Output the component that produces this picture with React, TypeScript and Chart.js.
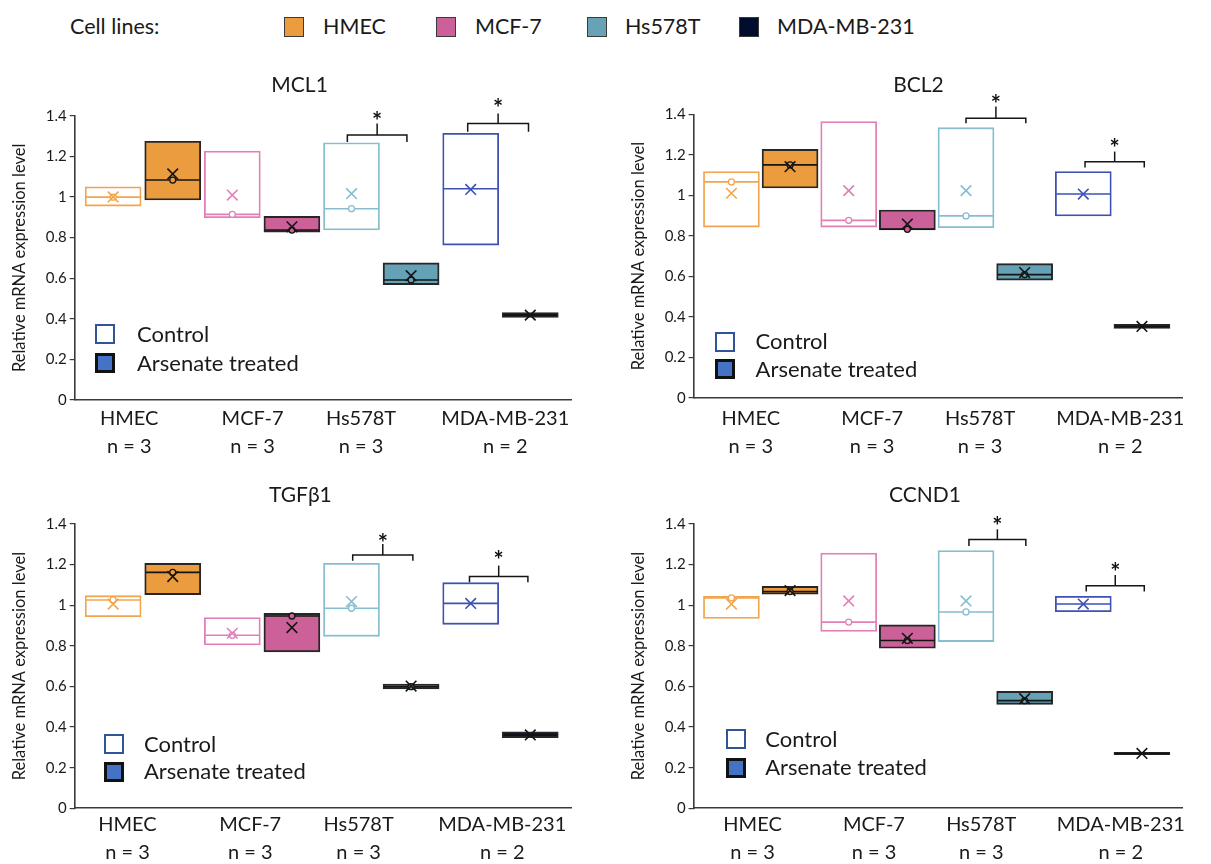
import React, { useEffect, useRef } from 'react';
import { Chart, registerables } from 'chart.js';

Chart.register(...registerables);

// ---------------- data ----------------
const cellLines = ['HMEC', 'MCF-7', 'Hs578T', 'MDA-MB-231'];
const sampleCounts = [3, 3, 3, 2];
const treatments = ['Control', 'Arsenate treated'];
const yTicks = [0, 0.2, 0.4, 0.6, 0.8, 1, 1.2, 1.4];

// box order: HMEC ctrl, HMEC treated, MCF-7 ctrl, MCF-7 treated,
//            Hs578T ctrl, Hs578T treated, MDA-MB-231 ctrl, MDA-MB-231 treated
const mcl1Low = [0.955, 0.985, 0.898, 0.827, 0.837, 0.568, 0.763, 0.407];
const mcl1High = [1.05, 1.274, 1.226, 0.904, 1.267, 0.675, 1.313, 0.43];
const mcl1Median = [0.999, 1.083, 0.914, 0.837, 0.942, 0.591, 1.04, 0.418];
const mcl1Mean = [1.0, 1.113, 1.009, 0.853, 1.016, 0.612, 1.037, 0.418];

const bcl2Low = [0.843, 1.036, 0.843, 0.829, 0.84, 0.581, 0.898, 0.342];
const bcl2High = [1.117, 1.227, 1.364, 0.927, 1.334, 0.662, 1.117, 0.362];
const bcl2Median = [1.066, 1.15, 0.876, 0.832, 0.898, 0.608, 1.006, 0.352];
const bcl2Mean = [1.01, 1.141, 1.023, 0.858, 1.023, 0.618, 1.006, 0.352];

const tgfLow = [0.944, 1.052, 0.804, 0.77, 0.847, 0.588, 0.906, 0.348];
const tgfHigh = [1.047, 1.206, 0.939, 0.96, 1.206, 0.612, 1.111, 0.376];
const tgfMedian = [1.026, 1.162, 0.852, 0.947, 0.985, 0.599, 1.009, 0.361];
const tgfMean = [1.006, 1.141, 0.862, 0.89, 1.018, 0.602, 1.009, 0.361];

const ccnd1Low = [0.935, 1.054, 0.871, 0.788, 0.821, 0.512, 0.968, 0.264];
const ccnd1High = [1.044, 1.093, 1.257, 0.903, 1.269, 0.576, 1.044, 0.276];
const ccnd1Median = [1.036, 1.067, 0.917, 0.826, 0.967, 0.53, 1.006, 0.27];
const ccnd1Mean = [1.006, 1.072, 1.021, 0.837, 1.021, 0.54, 1.006, 0.27];

// significance brackets: [left slot, right slot, leg end, bar level, tick top, asterisk]
const mcl1Sig = [[3.93, 4.93, 1.27, 1.305, 1.362, 1.398], [5.95, 6.97, 1.321, 1.362, 1.411, 1.461]];
const bcl2Sig = [[4.0, 5.02, 1.356, 1.38, 1.438, 1.471], [6.03, 7.04, 1.137, 1.166, 1.216, 1.257]];
const tgfSig = [[4.02, 5.03, 1.219, 1.247, 1.301, 1.329], [5.98, 6.96, 1.113, 1.142, 1.195, 1.247]];
const ccnd1Sig = [[4.05, 5.02, 1.292, 1.324, 1.374, 1.411], [6.05, 7.04, 1.067, 1.096, 1.149, 1.185]];

// ---------------- styles ----------------
const FONT = 'Lato, "Open Sans", sans-serif';
const textColor = '#1a1a1a';
const axisColor = '#3a3a3a';
const lineFill = ['#EA9C3F', '#CC6098', '#65A2B5', '#020E2C'];
const lineStroke = ['#F2A54C', '#E27FB6', '#86BDCF', '#3D50B4'];
const legendSwatch = ['#EA9C3F', '#CC6098', '#67A2B5', '#020C2C'];

type Spec = {
  title: string;
  low: number[]; high: number[]; median: number[]; mean: number[];
  sig: number[][];
  labelAt: number[];
  left: number; top: number; width: number; height: number;
  areaLeft: number; areaTop: number; areaRight: number; areaBottom: number;
  titleX: number; titleY: number; axisTitleX: number; labelPad: number;
  legX: number; legY: number[]; legTextX: number;
};

const panels: Spec[] = [
  {
    title: 'MCL1', low: mcl1Low, high: mcl1High, median: mcl1Median, mean: mcl1Mean, sig: mcl1Sig,
    labelAt: [0.27, 2.34, 4.16, 6.58],
    left: 0, top: 60, width: 600, height: 410,
    areaLeft: 74.7, areaTop: 115.7, areaRight: 591, areaBottom: 400,
    titleX: 299.6, titleY: 84, axisTitleX: 19.5, labelPad: 4.3,
    legX: 95, legY: [334, 363], legTextX: 137,
  },
  {
    title: 'BCL2', low: bcl2Low, high: bcl2High, median: bcl2Median, mean: bcl2Mean, sig: bcl2Sig,
    labelAt: [0.33, 2.4, 4.24, 6.63],
    left: 620, top: 60, width: 591, height: 410,
    areaLeft: 693.6, areaTop: 114.3, areaRight: 1208, areaBottom: 397.7,
    titleX: 918.5, titleY: 84, axisTitleX: 638.7, labelPad: 6.6,
    legX: 715, legY: [341.7, 369.3], legTextX: 755.6,
  },
  {
    title: 'TGFβ1', low: tgfLow, high: tgfHigh, median: tgfMedian, mean: tgfMean, sig: tgfSig,
    labelAt: [0.24, 2.3, 4.12, 6.53],
    left: 0, top: 465, width: 600, height: 399,
    areaLeft: 74.7, areaTop: 524, areaRight: 591.4, areaBottom: 808.3,
    titleX: 300.4, titleY: 493.3, axisTitleX: 19.5, labelPad: 2.7,
    legX: 104.3, legY: [744, 771.7], legTextX: 144,
  },
  {
    title: 'CCND1', low: ccnd1Low, high: ccnd1High, median: ccnd1Median, mean: ccnd1Mean, sig: ccnd1Sig,
    labelAt: [0.36, 2.43, 4.26, 6.64],
    left: 620, top: 465, width: 591, height: 399,
    areaLeft: 693.6, areaTop: 524, areaRight: 1208, areaBottom: 808.3,
    titleX: 925, titleY: 493.3, axisTitleX: 638.7, labelPad: 2.7,
    legX: 726, legY: [739.3, 767.7], legTextX: 765.2,
  },
];

const starPlugin = {
  id: 'sigStars',
  afterDatasetsDraw(chart: any, _args: any, opts: any) {
    const { ctx, scales } = chart;
    const xs = scales.x, ys = scales.y;
    ctx.save();
    ctx.font = `bold 24px ${FONT}`;
    ctx.fillStyle = '#111';
    ctx.textAlign = 'center';
    ctx.textBaseline = 'alphabetic';
    (opts.marks || []).forEach((m: any) => {
      ctx.fillText('*', xs.getPixelForValue(m.x), ys.getPixelForValue(m.y) + 13.5);
    });
    ctx.restore();
  },
};

function buildConfig(spec: Spec): any {
  const slots = spec.low.map((_, i) => i);
  const grp = (i: number) => Math.floor(i / 2);
  const isT = (i: number) => i % 2 === 1;
  const markColor = slots.map((i) => (isT(i) ? '#141414' : lineStroke[grp(i)]));
  const innerSlots = slots.filter((i) => sampleCounts[grp(i)] === 3);

  const datasets: any[] = [
    {
      type: 'bar',
      data: slots.map((i) => ({ x: i, y: [spec.low[i], spec.high[i]] })),
      backgroundColor: slots.map((i) => (isT(i) ? lineFill[grp(i)] : '#ffffff')),
      borderColor: slots.map((i) => (isT(i) ? '#262626' : lineStroke[grp(i)])),
      borderWidth: slots.map((i) => (isT(i) ? 1.9 : 1.8)),
      borderSkipped: false,
      barThickness: 56,
      order: 5,
    },
    {
      type: 'scatter',
      data: slots.map((i) => ({ x: i, y: spec.median[i] })),
      pointStyle: 'line',
      pointRadius: 27,
      pointBorderWidth: 1.6,
      pointBorderColor: markColor,
      order: 4,
    },
    {
      type: 'scatter',
      data: innerSlots.map((i) => ({ x: i, y: spec.median[i] })),
      pointStyle: 'circle',
      pointRadius: 3,
      pointBorderWidth: 1.3,
      pointBorderColor: innerSlots.map((i) => markColor[i]),
      pointBackgroundColor: innerSlots.map((i) => (isT(i) ? lineFill[grp(i)] : '#ffffff')),
      order: 3,
    },
    {
      type: 'scatter',
      data: slots.map((i) => ({ x: i, y: spec.mean[i] })),
      pointStyle: 'crossRot',
      pointRadius: 7.5,
      pointBorderWidth: 1.6,
      pointBorderColor: markColor,
      order: 2,
    },
  ];

  spec.sig.forEach((s) => {
    const mid = (s[0] + s[1]) / 2;
    datasets.push({
      type: 'line',
      data: [
        { x: s[0], y: s[2] }, { x: s[0], y: s[3] }, { x: s[1], y: s[3] }, { x: s[1], y: s[2] },
      ],
      borderColor: '#151515', borderWidth: 1.5, pointRadius: 0, fill: false, tension: 0, clip: false, order: 1,
    });
    datasets.push({
      type: 'line',
      data: [{ x: mid, y: s[3] }, { x: mid, y: s[4] }],
      borderColor: '#151515', borderWidth: 1.5, pointRadius: 0, fill: false, tension: 0, clip: false, order: 1,
    });
  });

  const yWidth = spec.areaLeft - spec.left;
  const xHeight = spec.top + spec.height - spec.areaBottom;
  const axisTitleSize = 16.5;

  return {
    type: 'bar',
    data: { datasets },
    plugins: [starPlugin],
    options: {
      responsive: false,
      animation: false,
      events: [],
      layout: {
        padding: { left: 0, top: spec.areaTop - spec.top, right: spec.left + spec.width - spec.areaRight, bottom: 0 },
      },
      plugins: {
        legend: { display: false },
        tooltip: { enabled: false },
        title: { display: false },
        sigStars: { marks: spec.sig.map((s) => ({ x: (s[0] + s[1]) / 2, y: s[5] })) },
      },
      scales: {
        x: {
          type: 'linear',
          min: -0.645,
          max: 7.69,
          offset: false,
          afterFit: (sc: any) => { sc.height = xHeight; },
          afterBuildTicks: (sc: any) => { sc.ticks = spec.labelAt.map((v) => ({ value: v })); },
          grid: { display: false, drawTicks: false },
          border: { display: true, color: axisColor, width: 1.6 },
          ticks: {
            autoSkip: false,
            maxRotation: 0,
            minRotation: 0,
            padding: spec.labelPad,
            color: textColor,
            font: { family: FONT, size: 20, lineHeight: 1.4 },
            callback: (_v: any, i: number) => [cellLines[i], 'n = ' + sampleCounts[i]],
          },
        },
        y: {
          type: 'linear',
          min: 0,
          max: 1.4,
          afterFit: (sc: any) => { sc.width = yWidth; },
          afterBuildTicks: (sc: any) => { sc.ticks = yTicks.map((v) => ({ value: v })); },
          grid: { display: true, drawOnChartArea: false, drawTicks: true, tickLength: 5, color: axisColor, lineWidth: 1.2 },
          border: { display: true, color: axisColor, width: 1.6 },
          ticks: {
            padding: 3,
            color: textColor,
            font: { family: FONT, size: 15 },
            callback: (v: any) => String(Math.round(Number(v) * 10) / 10),
          },
          title: {
            display: true,
            text: 'Relative mRNA expression level',
            color: textColor,
            font: { family: FONT, size: axisTitleSize, lineHeight: 1.2 },
            padding: { top: spec.axisTitleX - spec.left - (axisTitleSize * 1.2) / 2, bottom: 0 },
          },
        },
      },
    },
  };
}

function TextAt({ x, cy, size, children, center }: any) {
  const h = size * 1.4;
  return (
    <div
      style={{
        position: 'absolute',
        left: x,
        top: cy - h / 2,
        height: h,
        lineHeight: `${h}px`,
        fontSize: size,
        fontFamily: FONT,
        color: textColor,
        whiteSpace: 'nowrap',
        transform: center ? 'translateX(-50%)' : undefined,
      }}
    >
      {children}
    </div>
  );
}

function Swatch({ x, cy, size, fill, stroke, bw }: any) {
  return (
    <div
      style={{
        position: 'absolute',
        left: x,
        top: cy - size / 2,
        width: size,
        height: size,
        boxSizing: 'border-box',
        background: fill,
        border: `${bw}px solid ${stroke}`,
      }}
    />
  );
}

function Panel({ spec }: { spec: Spec }) {
  const ref = useRef<HTMLCanvasElement | null>(null);
  useEffect(() => {
    if (!ref.current) return;
    const chart = new Chart(ref.current, buildConfig(spec));
    return () => chart.destroy();
  }, [spec]);
  return (
    <>
      <canvas
        ref={ref}
        width={spec.width}
        height={spec.height}
        style={{ position: 'absolute', left: spec.left, top: spec.top, width: spec.width, height: spec.height }}
      />
      <TextAt x={spec.titleX} cy={spec.titleY} size={21} center>
        {spec.title}
      </TextAt>
      <Swatch x={spec.legX} cy={spec.legY[0]} size={20} fill="#ffffff" stroke="#2F5597" bw={2.5} />
      <Swatch x={spec.legX} cy={spec.legY[1]} size={20} fill="#4472C4" stroke="#111111" bw={3} />
      <TextAt x={spec.legTextX} cy={spec.legY[0]} size={22}>{treatments[0]}</TextAt>
      <TextAt x={spec.legTextX} cy={spec.legY[1]} size={22}>{treatments[1]}</TextAt>
    </>
  );
}

const topLegendSquares = [284, 436, 587, 739];
const topLegendText = [323, 475, 625, 777];

export default function App() {
  return (
    <div style={{ position: 'absolute', left: 0, top: 0, width: 1211, height: 864, background: '#ffffff', overflow: 'hidden' }}>
      <TextAt x={70} cy={26} size={21.5}>Cell lines:</TextAt>
      {cellLines.map((name, i) => (
        <React.Fragment key={name}>
          <Swatch x={topLegendSquares[i]} cy={26.5} size={20} fill={legendSwatch[i]} stroke="#3a3a3a" bw={1.5} />
          <TextAt x={topLegendText[i]} cy={26} size={21.5}>{name}</TextAt>
        </React.Fragment>
      ))}
      {panels.map((p) => (
        <Panel key={p.title} spec={p} />
      ))}
    </div>
  );
}
